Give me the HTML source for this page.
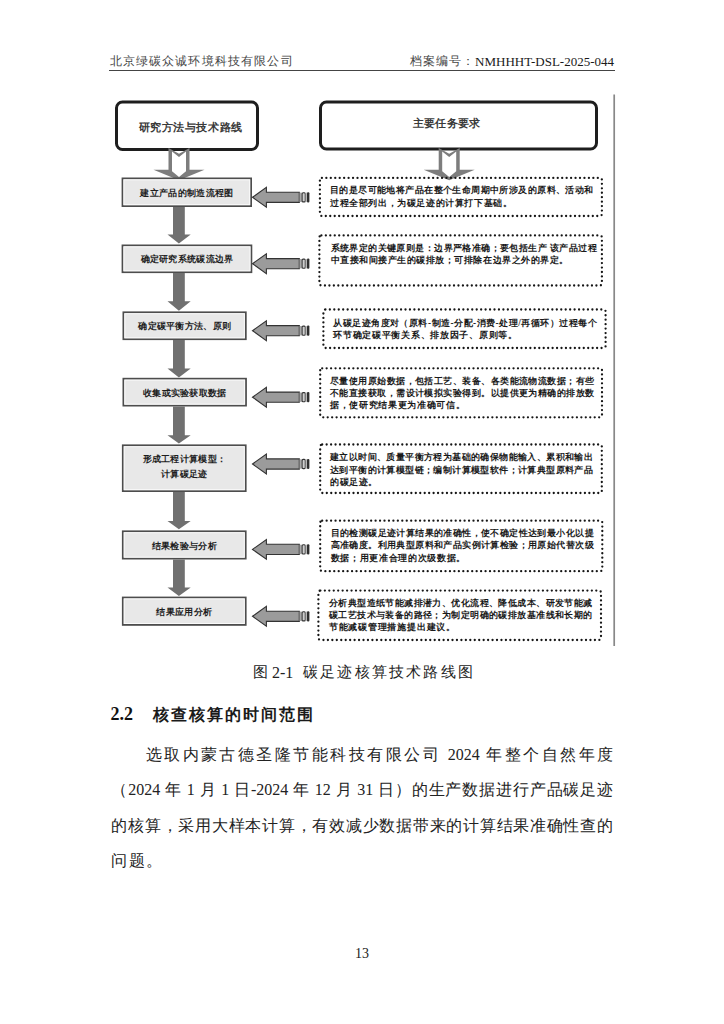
<!DOCTYPE html><html><head><meta charset="utf-8"><style>
html,body{margin:0;padding:0;background:#fff;}
#pg{position:relative;width:724px;height:1024px;overflow:hidden;background:#fff;font-family:"Liberation Serif", serif;color:#1a1a1a;}
.a{position:absolute;white-space:nowrap;line-height:1;}
.j{text-align:justify;text-align-last:justify;}
svg{position:absolute;left:0;top:0;}
.d{font-size:16px;}
</style></head><body><div id="pg">
<svg width="724" height="1024" viewBox="0 0 724 1024"><line x1="614.2" y1="94.5" x2="614.2" y2="646" stroke="#888" stroke-width="1.7"/><rect x="116.5" y="102" width="141" height="47.5" rx="6" ry="6" fill="#fff" stroke="#1e1e1e" stroke-width="3"/><rect x="320.5" y="102" width="276" height="47" rx="6" ry="6" fill="#fff" stroke="#1e1e1e" stroke-width="3"/><polygon points="168.5,148 179.0,153.8 189.5,148 189.5,169.7 204.5,169.7 179.0,180.2 153.5,169.7 168.5,169.7" fill="#7d7d7d"/><polygon points="172.0,151.6 179.0,157 186.0,151.6 186.0,171.3 179.0,177 172.0,171.3" fill="#fff"/><polygon points="438.7,148 449.2,153.8 459.7,148 459.7,169.7 474.7,169.7 449.2,180.2 423.7,169.7 438.7,169.7" fill="#7d7d7d"/><polygon points="442.2,151.6 449.2,157 456.2,151.6 456.2,171.3 449.2,177 442.2,171.3" fill="#fff"/><rect x="122.5" y="178.4" width="128.6" height="27.7" fill="#e8e8e8" stroke="#4d4d4d" stroke-width="1.8"/><rect x="123.9" y="179.8" width="125.8" height="24.9" fill="none" stroke="#fafafa" stroke-width="1"/><rect x="122.5" y="245.4" width="128.9" height="26.8" fill="#e8e8e8" stroke="#4d4d4d" stroke-width="1.8"/><rect x="123.9" y="246.8" width="126.1" height="24" fill="none" stroke="#fafafa" stroke-width="1"/><rect x="123.4" y="312.3" width="122.4" height="26.9" fill="#e8e8e8" stroke="#4d4d4d" stroke-width="1.8"/><rect x="124.8" y="313.7" width="119.6" height="24.1" fill="none" stroke="#fafafa" stroke-width="1"/><rect x="123.4" y="378.7" width="122.6" height="26.9" fill="#e8e8e8" stroke="#4d4d4d" stroke-width="1.8"/><rect x="124.8" y="380.1" width="119.8" height="24.1" fill="none" stroke="#fafafa" stroke-width="1"/><rect x="122.8" y="445.3" width="122.9" height="45.8" fill="#e8e8e8" stroke="#4d4d4d" stroke-width="1.8"/><rect x="124.2" y="446.7" width="120.1" height="43" fill="none" stroke="#fafafa" stroke-width="1"/><rect x="122.8" y="531.3" width="122.9" height="27.3" fill="#e8e8e8" stroke="#4d4d4d" stroke-width="1.8"/><rect x="124.2" y="532.7" width="120.1" height="24.5" fill="none" stroke="#fafafa" stroke-width="1"/><rect x="122.8" y="597.5" width="122.9" height="27.4" fill="#e8e8e8" stroke="#4d4d4d" stroke-width="1.8"/><rect x="124.2" y="598.9" width="120.1" height="24.6" fill="none" stroke="#fafafa" stroke-width="1"/><polygon points="173,207.0 184.8,207.0 184.8,234.6 190.7,234.6 178.9,243.5 167.5,234.6 173,234.6" fill="#707070"/><polygon points="173,273.1 184.8,273.1 184.8,301.3 190.7,301.3 178.9,310.7 167.5,301.3 173,301.3" fill="#707070"/><polygon points="173,340.1 184.8,340.1 184.8,368.5 190.7,368.5 178.9,377.4 167.5,368.5 173,368.5" fill="#707070"/><polygon points="173,406.5 184.8,406.5 184.8,435.2 190.7,435.2 178.9,443.5 167.5,435.2 173,435.2" fill="#707070"/><polygon points="173,492.0 184.8,492.0 184.8,521.0 190.7,521.0 178.9,529.2 167.5,521.0 173,521.0" fill="#707070"/><polygon points="173,559.5 184.8,559.5 184.8,587.6 190.7,587.6 178.9,595.9 167.5,587.6 173,587.6" fill="#707070"/><polygon points="252.5,197.3 266.4,187.4 266.4,192.2 299.3,192.2 299.3,202.4 266.4,202.4 266.4,207.2" fill="#9b9b9b" stroke="#333" stroke-width="1.1" stroke-linejoin="miter"/><rect x="299.6" y="192.6" width="2.2" height="9.4" fill="#a8a8a8"/><rect x="302.1" y="192.7" width="3.2" height="9.2" rx="1" fill="#cdcdcd" stroke="#333" stroke-width="1.1"/><rect x="305.6" y="192.6" width="1.6" height="9.4" fill="#b8b8b8"/><rect x="307.0" y="192.2" width="2.4" height="10.2" rx="1" fill="#2e2e2e"/><polygon points="252.5,263.7 266.4,253.8 266.4,258.6 299.3,258.6 299.3,268.8 266.4,268.8 266.4,273.6" fill="#9b9b9b" stroke="#333" stroke-width="1.1" stroke-linejoin="miter"/><rect x="299.6" y="259.0" width="2.2" height="9.4" fill="#a8a8a8"/><rect x="302.1" y="259.1" width="3.2" height="9.2" rx="1" fill="#cdcdcd" stroke="#333" stroke-width="1.1"/><rect x="305.6" y="259.0" width="1.6" height="9.4" fill="#b8b8b8"/><rect x="307.0" y="258.6" width="2.4" height="10.2" rx="1" fill="#2e2e2e"/><polygon points="252.5,330.7 266.4,320.8 266.4,325.6 299.3,325.6 299.3,335.8 266.4,335.8 266.4,340.6" fill="#9b9b9b" stroke="#333" stroke-width="1.1" stroke-linejoin="miter"/><rect x="299.6" y="326.0" width="2.2" height="9.4" fill="#a8a8a8"/><rect x="302.1" y="326.1" width="3.2" height="9.2" rx="1" fill="#cdcdcd" stroke="#333" stroke-width="1.1"/><rect x="305.6" y="326.0" width="1.6" height="9.4" fill="#b8b8b8"/><rect x="307.0" y="325.6" width="2.4" height="10.2" rx="1" fill="#2e2e2e"/><polygon points="252.5,397.2 266.4,387.3 266.4,392.1 299.3,392.1 299.3,402.3 266.4,402.3 266.4,407.1" fill="#9b9b9b" stroke="#333" stroke-width="1.1" stroke-linejoin="miter"/><rect x="299.6" y="392.5" width="2.2" height="9.4" fill="#a8a8a8"/><rect x="302.1" y="392.6" width="3.2" height="9.2" rx="1" fill="#cdcdcd" stroke="#333" stroke-width="1.1"/><rect x="305.6" y="392.5" width="1.6" height="9.4" fill="#b8b8b8"/><rect x="307.0" y="392.1" width="2.4" height="10.2" rx="1" fill="#2e2e2e"/><polygon points="252.5,464.0 266.4,454.1 266.4,458.9 299.3,458.9 299.3,469.1 266.4,469.1 266.4,473.9" fill="#9b9b9b" stroke="#333" stroke-width="1.1" stroke-linejoin="miter"/><rect x="299.6" y="459.3" width="2.2" height="9.4" fill="#a8a8a8"/><rect x="302.1" y="459.4" width="3.2" height="9.2" rx="1" fill="#cdcdcd" stroke="#333" stroke-width="1.1"/><rect x="305.6" y="459.3" width="1.6" height="9.4" fill="#b8b8b8"/><rect x="307.0" y="458.9" width="2.4" height="10.2" rx="1" fill="#2e2e2e"/><polygon points="252.5,549.4 266.4,539.5 266.4,544.3 299.3,544.3 299.3,554.5 266.4,554.5 266.4,559.3" fill="#9b9b9b" stroke="#333" stroke-width="1.1" stroke-linejoin="miter"/><rect x="299.6" y="544.7" width="2.2" height="9.4" fill="#a8a8a8"/><rect x="302.1" y="544.8" width="3.2" height="9.2" rx="1" fill="#cdcdcd" stroke="#333" stroke-width="1.1"/><rect x="305.6" y="544.7" width="1.6" height="9.4" fill="#b8b8b8"/><rect x="307.0" y="544.3" width="2.4" height="10.2" rx="1" fill="#2e2e2e"/><polygon points="252.5,616.3 266.4,606.4 266.4,611.2 299.3,611.2 299.3,621.4 266.4,621.4 266.4,626.2" fill="#9b9b9b" stroke="#333" stroke-width="1.1" stroke-linejoin="miter"/><rect x="299.6" y="611.6" width="2.2" height="9.4" fill="#a8a8a8"/><rect x="302.1" y="611.7" width="3.2" height="9.2" rx="1" fill="#cdcdcd" stroke="#333" stroke-width="1.1"/><rect x="305.6" y="611.6" width="1.6" height="9.4" fill="#b8b8b8"/><rect x="307.0" y="611.2" width="2.4" height="10.2" rx="1" fill="#2e2e2e"/><rect x="319.9" y="177.9" width="282.0" height="38.1" rx="2" ry="2" fill="none" stroke="#161616" stroke-width="2.3" stroke-dasharray="0 4.45" stroke-linecap="round"/><rect x="319.4" y="235.4" width="282.5" height="50.1" rx="2" ry="2" fill="none" stroke="#161616" stroke-width="2.3" stroke-dasharray="0 4.45" stroke-linecap="round"/><rect x="323.4" y="309.5" width="282.2" height="38.5" rx="2" ry="2" fill="none" stroke="#161616" stroke-width="2.3" stroke-dasharray="0 4.45" stroke-linecap="round"/><rect x="320.2" y="368.3" width="281.8" height="49.0" rx="2" ry="2" fill="none" stroke="#161616" stroke-width="2.3" stroke-dasharray="0 4.45" stroke-linecap="round"/><rect x="320.2" y="444.5" width="281.6" height="48.5" rx="2" ry="2" fill="none" stroke="#161616" stroke-width="2.3" stroke-dasharray="0 4.45" stroke-linecap="round"/><rect x="320.2" y="520.7" width="282.1" height="50.5" rx="2" ry="2" fill="none" stroke="#161616" stroke-width="2.3" stroke-dasharray="0 4.45" stroke-linecap="round"/><rect x="318.4" y="590.6" width="282.6" height="49.4" rx="2" ry="2" fill="none" stroke="#161616" stroke-width="2.3" stroke-dasharray="0 4.45" stroke-linecap="round"/></svg>
<div class="a" style="left:109.6px;top:55.00px;font-size:12px;font-weight:normal;color:#444;letter-spacing:1.15px;">北京绿碳众诚环境科技有限公司</div>
<div class="a" style="left:410px;top:55px;font-size:12px;color:#444;letter-spacing:0.9px;">档案编号：</div>
<div class="a" style="right:110px;top:54.5px;font-size:13px;color:#1a1a1a;">NMHHHT-DSL-2025-044</div>
<div style="position:absolute;left:109px;top:70px;width:506px;height:1px;background:#444;"></div>
<div class="a" style="left:138.5px;top:121.5px;font-size:11.3px;font-weight:bold;color:#3a3a3a;letter-spacing:0.6px;">研究方法与技术路线</div>
<div class="a" style="left:412.5px;top:117.5px;font-size:11.2px;font-weight:bold;color:#3a3a3a;letter-spacing:0.4px;">主要任务要求</div>
<div class="a" style="left:121.6px;top:188.80px;width:130.4px;text-align:center;font-size:9px;letter-spacing:0.3px;text-indent:0.3px;font-weight:bold;color:#1e1e1e;">建立产品的制造流程图</div>
<div class="a" style="left:121.6px;top:255.35px;width:130.7px;text-align:center;font-size:9px;letter-spacing:0.3px;text-indent:0.3px;font-weight:bold;color:#1e1e1e;">确定研究系统碳流边界</div>
<div class="a" style="left:122.5px;top:322.30px;width:124.2px;text-align:center;font-size:9px;letter-spacing:0.3px;text-indent:0.3px;font-weight:bold;color:#1e1e1e;">确定碳平衡方法、原则</div>
<div class="a" style="left:122.5px;top:388.70px;width:124.4px;text-align:center;font-size:9px;letter-spacing:0.3px;text-indent:0.3px;font-weight:bold;color:#1e1e1e;">收集或实验获取数据</div>
<div class="a" style="left:121.9px;top:455.15px;width:124.7px;text-align:center;font-size:9px;letter-spacing:0.3px;text-indent:0.3px;font-weight:bold;color:#1e1e1e;">形成工程计算模型：</div>
<div class="a" style="left:121.9px;top:470.05px;width:124.7px;text-align:center;font-size:9px;letter-spacing:0.3px;text-indent:0.3px;font-weight:bold;color:#1e1e1e;">计算碳足迹</div>
<div class="a" style="left:121.9px;top:541.50px;width:124.7px;text-align:center;font-size:9px;letter-spacing:0.3px;text-indent:0.3px;font-weight:bold;color:#1e1e1e;">结果检验与分析</div>
<div class="a" style="left:121.9px;top:607.75px;width:124.7px;text-align:center;font-size:9px;letter-spacing:0.3px;text-indent:0.3px;font-weight:bold;color:#1e1e1e;">结果应用分析</div>
<div class="a j" style="left:330.0px;top:186.05px;width:263.2px;font-size:9.3px;font-weight:bold;color:#1a1a1a;letter-spacing:0px;">目的是尽可能地将产品在整个生命周期中所涉及的原料、活动和</div>
<div class="a" style="left:330.0px;top:198.85px;font-size:9.3px;font-weight:bold;color:#1a1a1a;letter-spacing:0.6px;">过程全部列出，为碳足迹的计算打下基础。</div>
<div class="a j" style="left:330.5px;top:244.05px;width:266.1px;font-size:9.3px;font-weight:bold;color:#1a1a1a;letter-spacing:0px;">系统界定的关键原则是：边界严格准确；要包括生产 该产品过程</div>
<div class="a" style="left:330.5px;top:256.35px;font-size:9.3px;font-weight:bold;color:#1a1a1a;letter-spacing:0.53px;">中直接和间接产生的碳排放；可排除在边界之外的界定。</div>
<div class="a j" style="left:333.1px;top:318.65px;width:263.5px;font-size:9.3px;font-weight:bold;color:#1a1a1a;letter-spacing:0px;">从碳足迹角度对（原料-制造-分配-消费-处理/再循环）过程每个</div>
<div class="a" style="left:333.1px;top:330.95px;font-size:9.3px;font-weight:bold;color:#1a1a1a;letter-spacing:0.72px;">环节确定碳平衡关系、排放因子、原则等。</div>
<div class="a j" style="left:329.9px;top:376.75px;width:264.3px;font-size:9.3px;font-weight:bold;color:#1a1a1a;letter-spacing:0px;">尽量使用原始数据，包括工艺、装备、各类能流物流数据；有些</div>
<div class="a j" style="left:329.9px;top:389.05px;width:264.3px;font-size:9.3px;font-weight:bold;color:#1a1a1a;letter-spacing:0px;">不能直接获取，需设计模拟实验得到。以提供更为精确的排放数</div>
<div class="a" style="left:329.9px;top:401.35px;font-size:9.3px;font-weight:bold;color:#1a1a1a;letter-spacing:0.67px;">据，使研究结果更为准确可信。</div>
<div class="a j" style="left:329.9px;top:453.35px;width:263px;font-size:9.3px;font-weight:bold;color:#1a1a1a;letter-spacing:0px;">建立以时间、质量平衡方程为基础的确保物能输入、累积和输出</div>
<div class="a j" style="left:329.9px;top:465.55px;width:263px;font-size:9.3px;font-weight:bold;color:#1a1a1a;letter-spacing:0px;">达到平衡的计算模型链；编制计算模型软件；计算典型原料产品</div>
<div class="a" style="left:329.9px;top:477.95px;font-size:9.3px;font-weight:bold;color:#1a1a1a;letter-spacing:0.65px;">的碳足迹。</div>
<div class="a j" style="left:330.5px;top:528.75px;width:263.0px;font-size:9.3px;font-weight:bold;color:#1a1a1a;letter-spacing:0px;">目的检测碳足迹计算结果的准确性，使不确定性达到最小化以提</div>
<div class="a j" style="left:330.5px;top:541.05px;width:263.0px;font-size:9.3px;font-weight:bold;color:#1a1a1a;letter-spacing:0px;">高准确度。利用典型原料和产品实例计算检验；用原始代替次级</div>
<div class="a" style="left:330.5px;top:553.75px;font-size:9.3px;font-weight:bold;color:#1a1a1a;letter-spacing:0.69px;">数据；用更准合理的次级数据。</div>
<div class="a j" style="left:328.8px;top:598.55px;width:263.5px;font-size:9.3px;font-weight:bold;color:#1a1a1a;letter-spacing:0px;">分析典型造纸节能减排潜力、优化流程、降低成本、研发节能减</div>
<div class="a j" style="left:328.8px;top:610.85px;width:263.5px;font-size:9.3px;font-weight:bold;color:#1a1a1a;letter-spacing:0px;">碳工艺技术与装备的路径；为制定明确的碳排放基准线和长期的</div>
<div class="a" style="left:328.8px;top:623.45px;font-size:9.3px;font-weight:bold;color:#1a1a1a;letter-spacing:0.78px;">节能减碳管理措施提出建议。</div>
<div class="a" style="left:252.5px;top:664.5px;font-size:15px;color:#222;font-weight:350;">图</div>
<div class="a" style="left:272px;top:665px;font-size:16px;color:#222;">2-1</div>
<div class="a" style="left:303px;top:664.5px;font-size:15px;color:#222;letter-spacing:2.2px;font-weight:350;">碳足迹核算技术路线图</div>
<div class="a" style="left:110.5px;top:704.5px;font-size:18px;font-weight:bold;color:#111;">2.2</div>
<div class="a" style="left:152.5px;top:706.5px;font-size:16px;font-weight:bold;color:#1a1a1a;letter-spacing:2.1px;">核查核算的时间范围</div>
<div class="a j" style="left:145.6px;top:746.50px;width:467.4px;font-size:16px;font-weight:350;color:#222;letter-spacing:0px;">选取内蒙古德圣隆节能科技有限公司 <span class="d">2024</span> 年整个自然年度</div>
<div class="a j" style="left:111.4px;top:782.00px;width:501.6px;font-size:16px;font-weight:350;color:#222;letter-spacing:0px;">（<span class="d">2024</span> 年 <span class="d">1</span> 月 <span class="d">1</span> 日<span class="d">-2024</span> 年 <span class="d">12</span> 月 <span class="d">31</span> 日）的生产数据进行产品碳足迹</div>
<div class="a j" style="left:111.4px;top:817.50px;width:501.6px;font-size:16px;font-weight:350;color:#222;letter-spacing:0px;">的核算，采用大样本计算，有效减少数据带来的计算结果准确性查的</div>
<div class="a" style="left:111.4px;top:852.60px;font-size:16px;font-weight:350;color:#222;letter-spacing:1.5px;">问题。</div>
<div class="a" style="left:355px;top:946.5px;font-size:14px;color:#222;">13</div>
</div></body></html>
